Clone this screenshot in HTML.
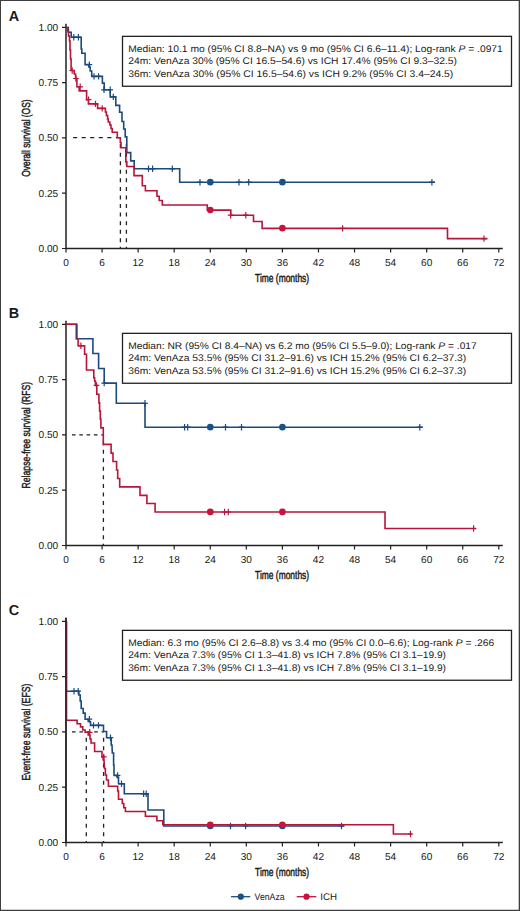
<!DOCTYPE html>
<html><head><meta charset="utf-8"><style>
html,body{margin:0;padding:0;background:#fff;}
body{width:520px;height:911px;overflow:hidden;}
svg{display:block;}
svg text{font-family:"Liberation Sans",sans-serif;fill:#1a1a1a;text-rendering:geometricPrecision;}
</style></head><body>
<svg width="520" height="911" viewBox="0 0 520 911">
<rect x="0" y="0" width="520" height="911" fill="#fff"/>
<path d="M0,0 H520 V911 H0 Z M1,1 V909.7 H518.7 V1 Z" fill="#3e3e3e" fill-rule="evenodd"/>
<text x="8.7" y="21.2" font-size="14.4" font-weight="bold">A</text>
<text transform="translate(29.8,138.1) rotate(-90)" text-anchor="middle" font-size="11.6" stroke="#1a1a1a" stroke-width="0.45" textLength="77.2" lengthAdjust="spacingAndGlyphs">Overall survival (OS)</text>
<path d="M66.0,23.7 V248.5 H502.8" stroke="#222" stroke-width="1.5" fill="none"/>
<path d="M62,248.5 H66.0 M62,193.2 H66.0 M62,137.9 H66.0 M62,82.6 H66.0 M62,27.3 H66.0 M66,248.5 V252.5 M102.07,248.5 V252.5 M138.13,248.5 V252.5 M174.2,248.5 V252.5 M210.27,248.5 V252.5 M246.33,248.5 V252.5 M282.4,248.5 V252.5 M318.47,248.5 V252.5 M354.53,248.5 V252.5 M390.6,248.5 V252.5 M426.67,248.5 V252.5 M462.73,248.5 V252.5 M498.8,248.5 V252.5" stroke="#222" stroke-width="1.2" fill="none"/>
<text x="58.2" y="252" text-anchor="end" font-size="10.1">0.00</text>
<text x="58.2" y="196.7" text-anchor="end" font-size="10.1">0.25</text>
<text x="58.2" y="141.4" text-anchor="end" font-size="10.1">0.50</text>
<text x="58.2" y="86.1" text-anchor="end" font-size="10.1">0.75</text>
<text x="58.2" y="30.8" text-anchor="end" font-size="10.1">1.00</text>
<text x="66" y="265.5" text-anchor="middle" font-size="10.1">0</text>
<text x="102.07" y="265.5" text-anchor="middle" font-size="10.1">6</text>
<text x="138.13" y="265.5" text-anchor="middle" font-size="10.1">12</text>
<text x="174.2" y="265.5" text-anchor="middle" font-size="10.1">18</text>
<text x="210.27" y="265.5" text-anchor="middle" font-size="10.1">24</text>
<text x="246.33" y="265.5" text-anchor="middle" font-size="10.1">30</text>
<text x="282.4" y="265.5" text-anchor="middle" font-size="10.1">36</text>
<text x="318.47" y="265.5" text-anchor="middle" font-size="10.1">42</text>
<text x="354.53" y="265.5" text-anchor="middle" font-size="10.1">48</text>
<text x="390.6" y="265.5" text-anchor="middle" font-size="10.1">54</text>
<text x="426.67" y="265.5" text-anchor="middle" font-size="10.1">60</text>
<text x="462.73" y="265.5" text-anchor="middle" font-size="10.1">66</text>
<text x="498.8" y="265.5" text-anchor="middle" font-size="10.1">72</text>
<text x="282.1" y="282.2" text-anchor="middle" font-size="11.6" stroke="#1a1a1a" stroke-width="0.45" textLength="54" lengthAdjust="spacingAndGlyphs">Time (months)</text>
<rect x="122.5" y="36.35" width="389" height="49.9" fill="#fff" stroke="#222" stroke-width="1.3"/>
<text x="128.2" y="51.75" font-size="9.6" textLength="374.6" lengthAdjust="spacingAndGlyphs">Median: 10.1 mo (95% CI 8.8–NA) vs 9 mo (95% CI 6.6–11.4); Log-rank <tspan font-style="italic">P</tspan> = .0971</text>
<text x="128.2" y="64.25" font-size="9.6" textLength="328.7" lengthAdjust="spacingAndGlyphs">24m: VenAza 30% (95% CI 16.5–54.6) vs ICH 17.4% (95% CI 9.3–32.5)</text>
<text x="128.2" y="76.75" font-size="9.6" textLength="325.1" lengthAdjust="spacingAndGlyphs">36m: VenAza 30% (95% CI 16.5–54.6) vs ICH 9.2% (95% CI 3.4–24.5)</text>
<path d="M73.1,137.7 L119.7,137.7" stroke="#222" stroke-width="1.3" stroke-dasharray="4.1 4.45" fill="none"/>
<path d="M120.4,144.1 L120.4,248.5" stroke="#222" stroke-width="1.3" stroke-dasharray="4 4.56" fill="none"/>
<path d="M126.4,144.1 L126.4,248.5" stroke="#222" stroke-width="1.3" stroke-dasharray="4 4.56" fill="none"/>
<path d="M66,27.5 L68.3,27.5 L68.3,32.2 L71.2,32.2 L71.2,37.2 L81.2,37.2 L81.2,49 L81.8,49 L81.8,53.2 L85.1,53.2 L85.1,64.6 L88.9,64.6 L88.9,67 L90.2,67 L90.2,71 L91.7,71 L91.7,76.4 L102.4,76.4 L102.4,83.1 L104.2,83.1 L104.2,89.8 L110.2,89.8 L110.2,96.9 L115.8,96.9 L115.8,105.4 L119.6,105.4 L119.6,112.3 L122,112.3 L122,121.5 L123.7,121.5 L123.7,129 L125.2,129 L125.2,136.9 L126.8,136.9 L126.8,152.6 L130.7,152.6 L130.7,160.9 L134.2,160.9 L134.2,168.8 L179.7,168.8 L179.7,182.2 L435,182.2" stroke="#1b4a7e" stroke-width="1.6" fill="none" stroke-linejoin="miter"/>
<path d="M73.8,34 V40.4 M71,37.2 H76.6" stroke="#1b4a7e" stroke-width="1.2" fill="none"/>
<path d="M78.4,34 V40.4 M75.6,37.2 H81.2" stroke="#1b4a7e" stroke-width="1.2" fill="none"/>
<path d="M89.4,61.4 V67.8 M86.6,64.6 H92.2" stroke="#1b4a7e" stroke-width="1.2" fill="none"/>
<path d="M94,73.2 V79.6 M91.2,76.4 H96.8" stroke="#1b4a7e" stroke-width="1.2" fill="none"/>
<path d="M98.6,73.2 V79.6 M95.8,76.4 H101.4" stroke="#1b4a7e" stroke-width="1.2" fill="none"/>
<path d="M104,86.6 V93 M101.2,89.8 H106.8" stroke="#1b4a7e" stroke-width="1.2" fill="none"/>
<path d="M110.2,86.6 V93 M107.4,89.8 H113" stroke="#1b4a7e" stroke-width="1.2" fill="none"/>
<path d="M113.3,93.7 V100.1 M110.5,96.9 H116.1" stroke="#1b4a7e" stroke-width="1.2" fill="none"/>
<path d="M148.5,165.6 V172 M145.7,168.8 H151.3" stroke="#1b4a7e" stroke-width="1.2" fill="none"/>
<path d="M152.6,165.6 V172 M149.8,168.8 H155.4" stroke="#1b4a7e" stroke-width="1.2" fill="none"/>
<path d="M172.3,165.6 V172 M169.5,168.8 H175.1" stroke="#1b4a7e" stroke-width="1.2" fill="none"/>
<path d="M200,179 V185.4 M197.2,182.2 H202.8" stroke="#1b4a7e" stroke-width="1.2" fill="none"/>
<path d="M239,179 V185.4 M236.2,182.2 H241.8" stroke="#1b4a7e" stroke-width="1.2" fill="none"/>
<path d="M248.7,179 V185.4 M245.9,182.2 H251.5" stroke="#1b4a7e" stroke-width="1.2" fill="none"/>
<path d="M431.9,179 V185.4 M429.1,182.2 H434.7" stroke="#1b4a7e" stroke-width="1.2" fill="none"/>
<circle cx="210.27" cy="182.14" r="3.3" fill="#1b5286"/>
<circle cx="282.4" cy="182.14" r="3.3" fill="#1b5286"/>
<path d="M66,27.5 L67.5,27.5 L67.5,31 L68.5,31 L68.5,36 L69.5,36 L69.5,41 L70,41 L70,50 L70.5,50 L70.5,59 L71.1,59 L71.1,70.5 L74.2,70.5 L74.2,74 L75.6,74 L75.6,78.5 L76.9,78.5 L76.9,86.8 L79.2,86.8 L79.2,90.9 L86.6,90.9 L86.6,99.6 L88.4,99.6 L88.4,103.9 L97.6,103.9 L97.6,108.4 L105.4,108.4 L105.4,112 L106.4,112 L106.4,115.5 L107.6,115.5 L107.6,119 L108.2,119 L108.2,122 L109.9,122 L109.9,125 L111,125 L111,128.5 L112.2,128.5 L112.2,132.3 L117.3,132.3 L117.3,137.7 L120.3,137.7 L120.3,142.5 L121,142.5 L121,147.8 L125.8,147.8 L125.8,161.8 L126.8,161.8 L126.8,166.5 L134,166.5 L134,175.6 L142.3,175.6 L142.3,185.8 L145.4,185.8 L145.4,190.8 L157,190.8 L157,196.2 L159.2,196.2 L159.2,200.5 L162.3,200.5 L162.3,205 L207.3,205 L207.3,210.1 L230.8,210.1 L230.8,215.2 L253.5,215.2 L253.5,221.5 L262.1,221.5 L262.1,228.4 L447.5,228.4 L447.5,238.6 L487.5,238.6" stroke="#b8153a" stroke-width="1.6" fill="none" stroke-linejoin="miter"/>
<path d="M72.2,67.3 V73.7 M69.4,70.5 H75" stroke="#b8153a" stroke-width="1.2" fill="none"/>
<path d="M75.9,75.3 V81.7 M73.1,78.5 H78.7" stroke="#b8153a" stroke-width="1.2" fill="none"/>
<path d="M80.2,83.6 V90 M77.4,86.8 H83" stroke="#b8153a" stroke-width="1.2" fill="none"/>
<path d="M88.6,96.4 V102.8 M85.8,99.6 H91.4" stroke="#b8153a" stroke-width="1.2" fill="none"/>
<path d="M95.5,100.7 V107.1 M92.7,103.9 H98.3" stroke="#b8153a" stroke-width="1.2" fill="none"/>
<path d="M102.2,105.2 V111.6 M99.4,108.4 H105" stroke="#b8153a" stroke-width="1.2" fill="none"/>
<path d="M230.6,212 V218.4 M227.8,215.2 H233.4" stroke="#b8153a" stroke-width="1.2" fill="none"/>
<path d="M245.8,212 V218.4 M243,215.2 H248.6" stroke="#b8153a" stroke-width="1.2" fill="none"/>
<path d="M342.6,225.2 V231.6 M339.8,228.4 H345.4" stroke="#b8153a" stroke-width="1.2" fill="none"/>
<path d="M484,235.4 V241.8 M481.2,238.6 H486.8" stroke="#b8153a" stroke-width="1.2" fill="none"/>
<circle cx="210.27" cy="210.01" r="3.3" fill="#c8143c"/>
<circle cx="282.4" cy="228.15" r="3.3" fill="#c8143c"/>
<text x="8.7" y="318.2" font-size="14.4" font-weight="bold">B</text>
<text transform="translate(29.8,435.1) rotate(-90)" text-anchor="middle" font-size="11.6" stroke="#1a1a1a" stroke-width="0.45" textLength="106.7" lengthAdjust="spacingAndGlyphs">Relapse-free survival (RFS)</text>
<path d="M66.0,320.7 V545.5 H502.8" stroke="#222" stroke-width="1.5" fill="none"/>
<path d="M62,545.5 H66.0 M62,490.2 H66.0 M62,434.9 H66.0 M62,379.6 H66.0 M62,324.3 H66.0 M66,545.5 V549.5 M102.07,545.5 V549.5 M138.13,545.5 V549.5 M174.2,545.5 V549.5 M210.27,545.5 V549.5 M246.33,545.5 V549.5 M282.4,545.5 V549.5 M318.47,545.5 V549.5 M354.53,545.5 V549.5 M390.6,545.5 V549.5 M426.67,545.5 V549.5 M462.73,545.5 V549.5 M498.8,545.5 V549.5" stroke="#222" stroke-width="1.2" fill="none"/>
<text x="58.2" y="549" text-anchor="end" font-size="10.1">0.00</text>
<text x="58.2" y="493.7" text-anchor="end" font-size="10.1">0.25</text>
<text x="58.2" y="438.4" text-anchor="end" font-size="10.1">0.50</text>
<text x="58.2" y="383.1" text-anchor="end" font-size="10.1">0.75</text>
<text x="58.2" y="327.8" text-anchor="end" font-size="10.1">1.00</text>
<text x="66" y="562.5" text-anchor="middle" font-size="10.1">0</text>
<text x="102.07" y="562.5" text-anchor="middle" font-size="10.1">6</text>
<text x="138.13" y="562.5" text-anchor="middle" font-size="10.1">12</text>
<text x="174.2" y="562.5" text-anchor="middle" font-size="10.1">18</text>
<text x="210.27" y="562.5" text-anchor="middle" font-size="10.1">24</text>
<text x="246.33" y="562.5" text-anchor="middle" font-size="10.1">30</text>
<text x="282.4" y="562.5" text-anchor="middle" font-size="10.1">36</text>
<text x="318.47" y="562.5" text-anchor="middle" font-size="10.1">42</text>
<text x="354.53" y="562.5" text-anchor="middle" font-size="10.1">48</text>
<text x="390.6" y="562.5" text-anchor="middle" font-size="10.1">54</text>
<text x="426.67" y="562.5" text-anchor="middle" font-size="10.1">60</text>
<text x="462.73" y="562.5" text-anchor="middle" font-size="10.1">66</text>
<text x="498.8" y="562.5" text-anchor="middle" font-size="10.1">72</text>
<text x="282.1" y="579.2" text-anchor="middle" font-size="11.6" stroke="#1a1a1a" stroke-width="0.45" textLength="54" lengthAdjust="spacingAndGlyphs">Time (months)</text>
<rect x="122.5" y="333.35" width="389" height="49.9" fill="#fff" stroke="#222" stroke-width="1.3"/>
<text x="128.2" y="348.75" font-size="9.6" textLength="348.5" lengthAdjust="spacingAndGlyphs">Median: NR (95% CI 8.4–NA) vs 6.2 mo (95% CI 5.5–9.0); Log-rank <tspan font-style="italic">P</tspan> = .017</text>
<text x="128.2" y="361.25" font-size="9.6" textLength="338" lengthAdjust="spacingAndGlyphs">24m: VenAza 53.5% (95% CI 31.2–91.6) vs ICH 15.2% (95% CI 6.2–37.3)</text>
<text x="128.2" y="373.75" font-size="9.6" textLength="338" lengthAdjust="spacingAndGlyphs">36m: VenAza 53.5% (95% CI 31.2–91.6) vs ICH 15.2% (95% CI 6.2–37.3)</text>
<path d="M72,434.85 L103.3,434.85" stroke="#222" stroke-width="1.3" stroke-dasharray="3.6 3.7" fill="none"/>
<path d="M103.4,441.15 L103.4,545.5" stroke="#222" stroke-width="1.3" stroke-dasharray="4 4.55" fill="none"/>
<path d="M66,324.3 L76.6,324.3 L76.6,338.8 L92.9,338.8 L92.9,353.5 L98.6,353.5 L98.6,368.5 L104.2,368.5 L104.2,383.1 L116.3,383.1 L116.3,403.3 L145,403.3 L145,427.2 L422.7,427.2" stroke="#1b4a7e" stroke-width="1.6" fill="none" stroke-linejoin="miter"/>
<path d="M104.2,379.9 V386.3 M101.4,383.1 H107" stroke="#1b4a7e" stroke-width="1.2" fill="none"/>
<path d="M145,400.1 V406.5 M142.2,403.3 H147.8" stroke="#1b4a7e" stroke-width="1.2" fill="none"/>
<path d="M184.6,424 V430.4 M181.8,427.2 H187.4" stroke="#1b4a7e" stroke-width="1.2" fill="none"/>
<path d="M187.7,424 V430.4 M184.9,427.2 H190.5" stroke="#1b4a7e" stroke-width="1.2" fill="none"/>
<path d="M225.5,424 V430.4 M222.7,427.2 H228.3" stroke="#1b4a7e" stroke-width="1.2" fill="none"/>
<path d="M241.5,424 V430.4 M238.7,427.2 H244.3" stroke="#1b4a7e" stroke-width="1.2" fill="none"/>
<path d="M419.8,424 V430.4 M417,427.2 H422.6" stroke="#1b4a7e" stroke-width="1.2" fill="none"/>
<circle cx="210.27" cy="427.16" r="3.3" fill="#1b5286"/>
<circle cx="282.4" cy="427.16" r="3.3" fill="#1b5286"/>
<path d="M66,324.3 L76.4,324.3 L76.4,338.8 L78.1,338.8 L78.1,345.8 L84.6,345.8 L84.6,354.2 L86.5,354.2 L86.5,370 L93.8,370 L93.8,377.7 L94.6,377.7 L94.6,381 L95.4,381 L95.4,385.4 L96.8,385.4 L96.8,394.2 L98.9,394.2 L98.9,402.9 L99.6,402.9 L99.6,411 L100.3,411 L100.3,419 L100.9,419 L100.9,427.9 L103.3,427.9 L103.3,444.4 L111.1,444.4 L111.1,453.1 L113,453.1 L113,461.5 L116.6,461.5 L116.6,470 L117.7,470 L117.7,478.5 L119.7,478.5 L119.7,486.9 L140,486.9 L140,495.4 L146.9,495.4 L146.9,503.5 L155.1,503.5 L155.1,512 L385,512 L385,528.5 L476,528.5" stroke="#b8153a" stroke-width="1.6" fill="none" stroke-linejoin="miter"/>
<path d="M80.9,342.6 V349 M78.1,345.8 H83.7" stroke="#b8153a" stroke-width="1.2" fill="none"/>
<path d="M96.5,382.2 V388.6 M93.7,385.4 H99.3" stroke="#b8153a" stroke-width="1.2" fill="none"/>
<path d="M224.6,508.8 V515.2 M221.8,512 H227.4" stroke="#b8153a" stroke-width="1.2" fill="none"/>
<path d="M228.3,508.8 V515.2 M225.5,512 H231.1" stroke="#b8153a" stroke-width="1.2" fill="none"/>
<path d="M473.6,525.3 V531.7 M470.8,528.5 H476.4" stroke="#b8153a" stroke-width="1.2" fill="none"/>
<circle cx="210.27" cy="511.88" r="3.3" fill="#c8143c"/>
<circle cx="282.4" cy="511.88" r="3.3" fill="#c8143c"/>
<path d="M76.8,324.3 V338.8" stroke="#1b4a7e" stroke-width="1.2" fill="none"/>
<text x="8.7" y="615.2" font-size="14.4" font-weight="bold">C</text>
<text transform="translate(29.8,732.1) rotate(-90)" text-anchor="middle" font-size="11.6" stroke="#1a1a1a" stroke-width="0.45" textLength="97.0" lengthAdjust="spacingAndGlyphs">Event-free survival (EFS)</text>
<path d="M66.0,617.7 V842.5 H502.8" stroke="#222" stroke-width="1.5" fill="none"/>
<path d="M62,842.5 H66.0 M62,787.2 H66.0 M62,731.9 H66.0 M62,676.6 H66.0 M62,621.3 H66.0 M66,842.5 V846.5 M102.07,842.5 V846.5 M138.13,842.5 V846.5 M174.2,842.5 V846.5 M210.27,842.5 V846.5 M246.33,842.5 V846.5 M282.4,842.5 V846.5 M318.47,842.5 V846.5 M354.53,842.5 V846.5 M390.6,842.5 V846.5 M426.67,842.5 V846.5 M462.73,842.5 V846.5 M498.8,842.5 V846.5" stroke="#222" stroke-width="1.2" fill="none"/>
<text x="58.2" y="846" text-anchor="end" font-size="10.1">0.00</text>
<text x="58.2" y="790.7" text-anchor="end" font-size="10.1">0.25</text>
<text x="58.2" y="735.4" text-anchor="end" font-size="10.1">0.50</text>
<text x="58.2" y="680.1" text-anchor="end" font-size="10.1">0.75</text>
<text x="58.2" y="624.8" text-anchor="end" font-size="10.1">1.00</text>
<text x="66" y="859.5" text-anchor="middle" font-size="10.1">0</text>
<text x="102.07" y="859.5" text-anchor="middle" font-size="10.1">6</text>
<text x="138.13" y="859.5" text-anchor="middle" font-size="10.1">12</text>
<text x="174.2" y="859.5" text-anchor="middle" font-size="10.1">18</text>
<text x="210.27" y="859.5" text-anchor="middle" font-size="10.1">24</text>
<text x="246.33" y="859.5" text-anchor="middle" font-size="10.1">30</text>
<text x="282.4" y="859.5" text-anchor="middle" font-size="10.1">36</text>
<text x="318.47" y="859.5" text-anchor="middle" font-size="10.1">42</text>
<text x="354.53" y="859.5" text-anchor="middle" font-size="10.1">48</text>
<text x="390.6" y="859.5" text-anchor="middle" font-size="10.1">54</text>
<text x="426.67" y="859.5" text-anchor="middle" font-size="10.1">60</text>
<text x="462.73" y="859.5" text-anchor="middle" font-size="10.1">66</text>
<text x="498.8" y="859.5" text-anchor="middle" font-size="10.1">72</text>
<text x="282.1" y="876.2" text-anchor="middle" font-size="11.6" stroke="#1a1a1a" stroke-width="0.45" textLength="54" lengthAdjust="spacingAndGlyphs">Time (months)</text>
<rect x="122.5" y="630.35" width="389" height="49.9" fill="#fff" stroke="#222" stroke-width="1.3"/>
<text x="128.2" y="645.75" font-size="9.6" textLength="366" lengthAdjust="spacingAndGlyphs">Median: 6.3 mo (95% CI 2.6–8.8) vs 3.4 mo (95% CI 0.0–6.6); Log-rank <tspan font-style="italic">P</tspan> = .266</text>
<text x="128.2" y="658.25" font-size="9.6" textLength="317.8" lengthAdjust="spacingAndGlyphs">24m: VenAza 7.3% (95% CI 1.3–41.8) vs ICH 7.8% (95% CI 3.1–19.9)</text>
<text x="128.2" y="670.75" font-size="9.6" textLength="317.8" lengthAdjust="spacingAndGlyphs">36m: VenAza 7.3% (95% CI 1.3–41.8) vs ICH 7.8% (95% CI 3.1–19.9)</text>
<path d="M72,731.85 L103.8,731.85" stroke="#222" stroke-width="1.3" stroke-dasharray="3.6 3.8" fill="none"/>
<path d="M86.3,737.7 L86.3,842.5" stroke="#222" stroke-width="1.3" stroke-dasharray="4 4.6" fill="none"/>
<path d="M103.6,737.7 L103.6,842.5" stroke="#222" stroke-width="1.3" stroke-dasharray="4 4.6" fill="none"/>
<path d="M66.3,621.2 L66.3,691.2 L78.9,691.2 L78.9,695 L80.2,695 L80.2,701 L81.2,701 L81.2,708.5 L83.2,708.5 L83.2,713.1 L85.1,713.1 L85.1,719.2 L88.2,719.2 L88.2,721.5 L90.5,721.5 L90.5,725.4 L103.5,725.4 L103.5,731.5 L106.6,731.5 L106.6,737.7 L111.2,737.7 L111.2,745 L112,745 L112.3,753 L113.6,753 L113.6,765 L114,765 L114,775.4 L116.9,775.4 L116.9,777 L118.5,777 L118.5,783.8 L124.3,783.8 L124.3,793.8 L148,793.8 L148,810 L163.8,810 L163.8,826 L344.4,826" stroke="#1b4a7e" stroke-width="1.6" fill="none" stroke-linejoin="miter"/>
<path d="M74,688 V694.4 M71.2,691.2 H76.8" stroke="#1b4a7e" stroke-width="1.2" fill="none"/>
<path d="M78.2,688 V694.4 M75.4,691.2 H81" stroke="#1b4a7e" stroke-width="1.2" fill="none"/>
<path d="M89.4,716 V722.4 M86.6,719.2 H92.2" stroke="#1b4a7e" stroke-width="1.2" fill="none"/>
<path d="M93.5,722.2 V728.6 M90.7,725.4 H96.3" stroke="#1b4a7e" stroke-width="1.2" fill="none"/>
<path d="M98.5,722.2 V728.6 M95.7,725.4 H101.3" stroke="#1b4a7e" stroke-width="1.2" fill="none"/>
<path d="M110.5,734.5 V740.9 M107.7,737.7 H113.3" stroke="#1b4a7e" stroke-width="1.2" fill="none"/>
<path d="M117.6,772.2 V778.6 M114.8,775.4 H120.4" stroke="#1b4a7e" stroke-width="1.2" fill="none"/>
<path d="M121.5,780.6 V787 M118.7,783.8 H124.3" stroke="#1b4a7e" stroke-width="1.2" fill="none"/>
<path d="M143.6,790.6 V797 M140.8,793.8 H146.4" stroke="#1b4a7e" stroke-width="1.2" fill="none"/>
<path d="M146.2,790.6 V797 M143.4,793.8 H149" stroke="#1b4a7e" stroke-width="1.2" fill="none"/>
<path d="M230.5,822.8 V829.2 M227.7,826 H233.3" stroke="#1b4a7e" stroke-width="1.2" fill="none"/>
<path d="M245.6,822.8 V829.2 M242.8,826 H248.4" stroke="#1b4a7e" stroke-width="1.2" fill="none"/>
<path d="M341.5,822.8 V829.2 M338.7,826 H344.3" stroke="#1b4a7e" stroke-width="1.2" fill="none"/>
<circle cx="210.27" cy="826.02" r="3.3" fill="#1b5286"/>
<circle cx="282.4" cy="826.02" r="3.3" fill="#1b5286"/>
<path d="M66.5,621.2 L66.5,720.3 L77.1,720.3 L77.1,723.8 L80.5,723.8 L80.5,726.9 L82.8,726.9 L82.8,730 L85.1,730 L85.1,732.3 L88.2,732.3 L88.2,735 L90,735 L90,739 L91,739 L91,743 L94.6,743 L94.6,751.5 L102,751.5 L102,756.9 L103.2,756.9 L103.2,760 L104,760 L104.5,768.5 L105.4,768.5 L105.4,775 L106.5,775 L106.5,780 L108.4,780 L108.4,786.2 L117.7,786.2 L117.7,791 L118.5,791 L118.5,799.2 L122.3,799.2 L122.3,803.5 L123.8,803.5 L123.8,807.7 L125.4,807.7 L125.4,811.5 L145.4,811.5 L145.4,816.2 L156.9,816.2 L156.9,820.8 L162.8,820.8 L162.8,824.8 L393.4,824.8 L393.4,834 L412,834" stroke="#b8153a" stroke-width="1.6" fill="none" stroke-linejoin="miter"/>
<path d="M89.7,729.1 V735.5 M86.9,732.3 H92.5" stroke="#b8153a" stroke-width="1.2" fill="none"/>
<path d="M103.8,753.7 V760.1 M101,756.9 H106.6" stroke="#b8153a" stroke-width="1.2" fill="none"/>
<path d="M410.5,830.8 V837.2 M407.7,834 H413.3" stroke="#b8153a" stroke-width="1.2" fill="none"/>
<circle cx="210.27" cy="824.69" r="3.3" fill="#c8143c"/>
<circle cx="282.4" cy="824.69" r="3.3" fill="#c8143c"/>
<path d="M66.0,617.7 V842.5" stroke="#222" stroke-width="1.3" fill="none"/>
<path d="M231,896.7 H250.2" stroke="#1b4a7e" stroke-width="1.3"/>
<circle cx="240.8" cy="896.7" r="3.1" fill="#1b5286"/>
<text x="254.6" y="899.8" font-size="9.6" textLength="30" lengthAdjust="spacingAndGlyphs">VenAza</text>
<path d="M296.7,896.7 H316.3" stroke="#b8153a" stroke-width="1.3"/>
<circle cx="306.5" cy="896.7" r="3.1" fill="#c8143c"/>
<text x="320.3" y="899.8" font-size="9.6" textLength="16.8" lengthAdjust="spacingAndGlyphs">ICH</text>
</svg>
</body></html>
